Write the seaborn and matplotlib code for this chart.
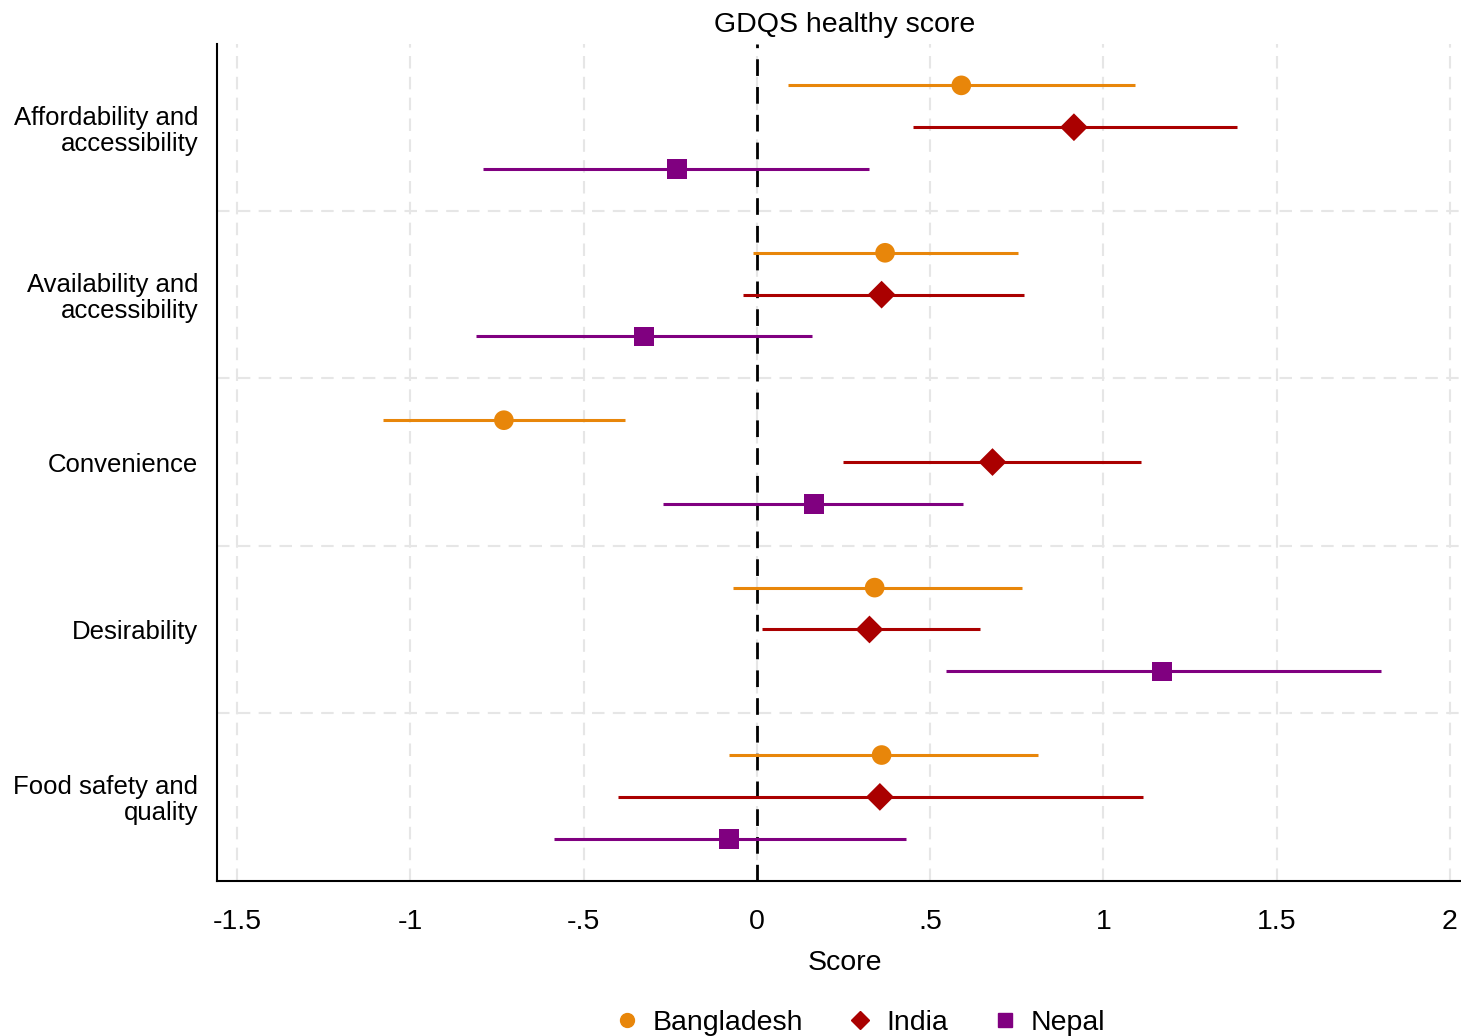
import seaborn as sns
import matplotlib.pyplot as plt
import pandas as pd
import numpy as np

categories = ["Affordability and\naccessibility", "Availability and\naccessibility",
              "Convenience", "Desirability", "Food safety and\nquality"]
countries = ["Bangladesh", "India", "Nepal"]

bangladesh_est = [0.59, 0.37, -0.73, 0.34, 0.36]
bangladesh_lo = [0.09, -0.01, -1.08, -0.07, -0.08]
bangladesh_hi = [1.09, 0.755, -0.38, 0.765, 0.81]

india_est = [0.915, 0.36, 0.68, 0.325, 0.355]
india_lo = [0.45, -0.04, 0.25, 0.015, -0.40]
india_hi = [1.385, 0.77, 1.11, 0.645, 1.115]

nepal_est = [-0.23, -0.325, 0.165, 1.17, -0.08]
nepal_lo = [-0.79, -0.81, -0.27, 0.545, -0.585]
nepal_hi = [0.325, 0.16, 0.595, 1.80, 0.43]

colors = {"Bangladesh": "#E8860A", "India": "#AA0000", "Nepal": "#800080"}
markers = {"Bangladesh": "o", "India": "D", "Nepal": "s"}
offsets = {"Bangladesh": -0.25, "India": 0.0, "Nepal": 0.25}

rows = []
for name, est, lo, hi in [("Bangladesh", bangladesh_est, bangladesh_lo, bangladesh_hi),
                          ("India", india_est, india_lo, india_hi),
                          ("Nepal", nepal_est, nepal_lo, nepal_hi)]:
    for i, cat in enumerate(categories):
        rows.append({"country": name, "cat": i, "est": est[i], "lo": lo[i], "hi": hi[i],
                     "ypos": i + offsets[name]})
df = pd.DataFrame(rows)

sns.set_style("white")
plt.rcParams['font.family'] = ['Liberation Sans', 'DejaVu Sans']
plt.rcParams['text.color'] = 'black'
plt.rcParams['xtick.color'] = 'black'
plt.rcParams['ytick.color'] = 'black'
plt.rcParams['axes.labelcolor'] = 'black'

fig, ax = plt.subplots(figsize=(14.61, 10.36), dpi=100)
fig.subplots_adjust(left=0.1485, right=1.0, top=0.958, bottom=0.15)

# grid lines
for xv in np.arange(-1.5, 2.01, 0.5):
    ax.axvline(xv, color="#e6e6e6", lw=1.5, ls=(0, (6, 4)), zorder=0)
for yv in np.arange(0.5, 4.0, 1.0):
    ax.axhline(yv, color="#e6e6e6", lw=1.5, ls=(0, (6, 4)), zorder=0)

ax.axvline(0, color="black", lw=2, ls=(0, (6, 4)), zorder=1)

for name in countries:
    sub = df[df.country == name]
    ax.hlines(sub.ypos, sub.lo, sub.hi, color=colors[name], lw=2.2, zorder=2)

sns.scatterplot(data=df, x="est", y="ypos", hue="country", style="country",
                palette=colors, markers=markers, s=200, edgecolor="none",
                zorder=3, ax=ax, legend=False)

ax.set_xlim(-1.558, 2.032)
ax.set_ylim(4.5, -0.5)
ax.set_yticks(range(len(categories)))
ax.set_yticklabels(categories, fontsize=18.5, linespacing=1.1)
ax.set_xticks(np.arange(-1.5, 2.01, 0.5))
ax.set_xticklabels(["-1.5", "-1", "-.5", "0", ".5", "1", "1.5", "2"], fontsize=20.5)
ax.tick_params(axis="both", length=8.6, width=1.5, color="black", direction="out")
ax.tick_params(axis="y", pad=5)
ax.tick_params(axis="x", pad=12)

for s in ["top", "right"]:
    ax.spines[s].set_visible(False)
for s in ["left", "bottom"]:
    ax.spines[s].set_color("black")
    ax.spines[s].set_linewidth(1.5)

ax.set_xlabel("Score", fontsize=20.5)
ax.xaxis.set_label_coords(0.5045, -0.083)
ax.set_ylabel("")
ax.set_title("GDQS healthy score", fontsize=20.5, pad=8, x=0.5045)

handles = [plt.Line2D([], [], ls="none", marker=markers[c], color=colors[c],
                      markersize=10 if c != "India" else 9) for c in countries]
fig.legend(handles, countries, loc="lower center", ncol=3, frameon=False,
           fontsize=20.5, bbox_to_anchor=(0.587, -0.025), handletextpad=0.3,
           columnspacing=1.4, handlelength=1.2)

plt.savefig("out.png", dpi=100)
